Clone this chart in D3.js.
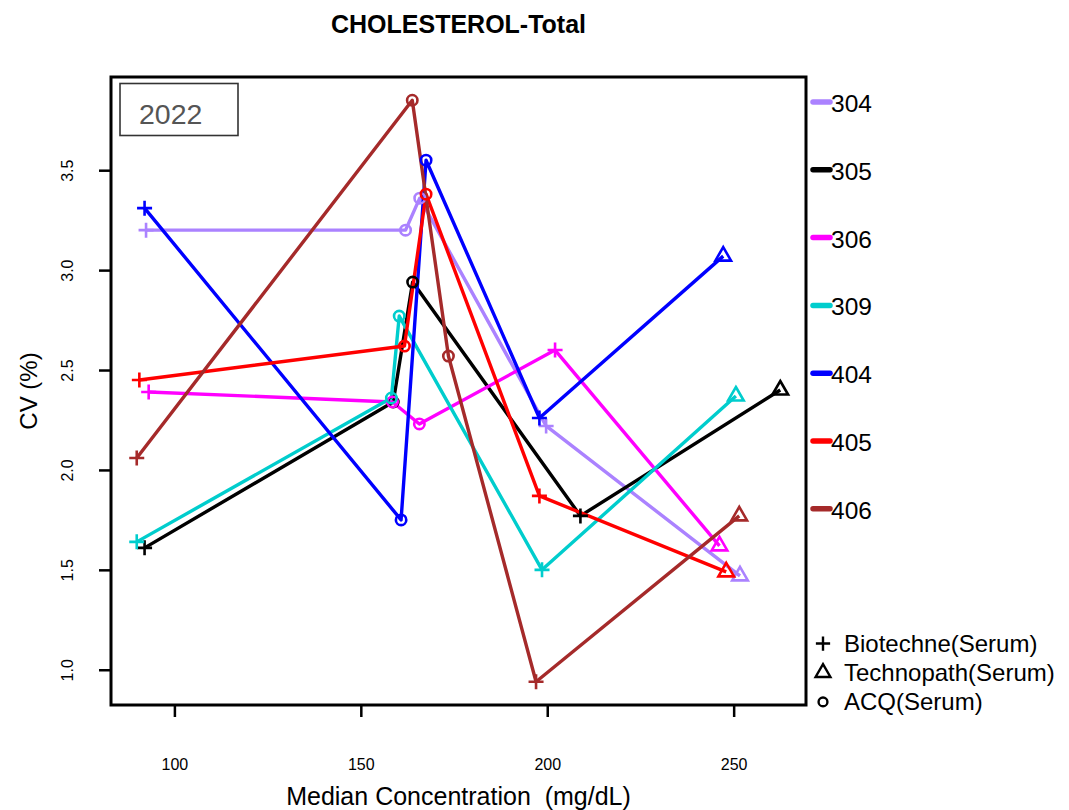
<!DOCTYPE html>
<html>
<head>
<meta charset="utf-8">
<script src="https://cdn.jsdelivr.net/npm/d3@7"></script>
<style>
  html, body { margin: 0; padding: 0; background: #fff; }
  svg { display: block; font-family: "Liberation Sans", Arial, Helvetica, sans-serif; }
</style>
</head>
<body>
<div id="chart"></div>
<script>
// Laboratory groups and their colours
const groups = ["304", "305", "306", "309", "404", "405", "406"];
const groupColors = ["#AB82FF", "#000000", "#FF00FF", "#00CDCD", "#0000FF", "#FF0000", "#A52A2A"];

// Control materials and their plotting symbols
const materials = ["Biotechne(Serum)", "Technopath(Serum)", "ACQ(Serum)"];
const materialSymbols = ["plus", "triangle", "circle"];

// Material of each point along a group's line (same order for every group)
const pointMaterial = ["Biotechne(Serum)", "ACQ(Serum)", "ACQ(Serum)", "Biotechne(Serum)", "Technopath(Serum)"];

// Median concentration (mg/dL) and CV (%) per group
const median304 = [92.4, 162.0, 165.8, 199.7, 251.7];
const cv304     = [3.20, 3.20, 3.36, 2.22, 1.47];
const median305 = [92.0, 158.7, 163.9, 208.9, 262.5];
const cv305     = [1.61, 2.34, 2.94, 1.77, 2.40];
const median306 = [93.1, 158.5, 165.7, 202.1, 246.2];
const cv306     = [2.39, 2.34, 2.23, 2.60, 1.62];
const median309 = [89.9, 158.2, 160.3, 198.6, 250.6];
const cv309     = [1.64, 2.36, 2.77, 1.50, 2.37];
const median404 = [92.0, 160.8, 167.5, 197.9, 247.2];
const cv404     = [3.31, 1.75, 3.55, 2.26, 3.07];
const median405 = [90.6, 161.7, 167.5, 197.9, 248.0];
const cv405     = [2.45, 2.62, 3.38, 1.87, 1.49];
const median406 = [89.9, 163.8, 173.5, 197.0, 251.5];
const cv406     = [2.06, 3.85, 2.57, 0.94, 1.77];

// Axis ticks
const xTicks = [100, 150, 200, 250];
const yTicks = [1.0, 1.5, 2.0, 2.5, 3.0, 3.5];

const chartTitle = "CHOLESTEROL-Total";
const yearLabel = "2022";
const xTitle = "Median Concentration  (mg/dL)";
const yTitle = "CV (%)";

const medians = [median304, median305, median306, median309, median404, median405, median406];
const cvs = [cv304, cv305, cv306, cv309, cv404, cv405, cv406];

const series = groups.map((g, i) => ({
  group: g,
  color: groupColors[i],
  points: medians[i].map((m, j) => ({ x: m, y: cvs[i][j], material: pointMaterial[j] }))
}));

const W = 1069, H = 810;
const plot = { left: 111, right: 806, top: 77, bottom: 705 };

// R-style 4% padding around the data range
function padded(values) {
  const [lo, hi] = d3.extent(values);
  const pad = (hi - lo) * 0.04;
  return [lo - pad, hi + pad];
}
const allX = medians.flat();
const allY = cvs.flat();

const x = d3.scaleLinear().domain(padded(allX)).range([plot.left, plot.right]);
const y = d3.scaleLinear().domain(padded(allY)).range([plot.bottom, plot.top]);

const svg = d3.select("#chart").append("svg").attr("width", W).attr("height", H);

// Symbol drawing
const symbolFor = Object.fromEntries(materials.map((m, i) => [m, materialSymbols[i]]));
function drawSymbol(sel, kind, cx, cy, color, scale = 1, sw = 2.6) {
  if (kind === "plus") {
    const a = 7.5 * scale;
    sel.append("path")
      .attr("d", `M${cx - a},${cy}H${cx + a}M${cx},${cy - a}V${cy + a}`)
      .attr("stroke", color).attr("stroke-width", sw).attr("fill", "none");
  } else if (kind === "triangle") {
    const r = 5.8 * scale;
    const top = r * 1.5551, half = r * 1.3468, base = r * 0.7776;
    sel.append("path")
      .attr("d", `M${cx},${cy - top}L${cx + half},${cy + base}L${cx - half},${cy + base}Z`)
      .attr("stroke", color).attr("stroke-width", sw).attr("fill", "none");
  } else {
    sel.append("circle")
      .attr("cx", cx).attr("cy", cy).attr("r", 5.2 * scale)
      .attr("stroke", color).attr("stroke-width", sw).attr("fill", "none");
  }
}

// Axes
const xAxis = svg.append("g").attr("transform", `translate(0,${plot.bottom})`)
  .call(d3.axisBottom(x).tickValues(xTicks).tickSize(12).tickFormat(d3.format("d")));
xAxis.select(".domain").remove();
xAxis.selectAll(".tick line").attr("stroke", "#000").attr("stroke-width", 2.5);
xAxis.selectAll(".tick text")
  .style("font-size", "16px").style("font-family", "Liberation Sans, Arial, sans-serif")
  .attr("fill", "#000").attr("dy", null).attr("y", 65);

const yAxis = svg.append("g").attr("transform", `translate(${plot.left},0)`)
  .call(d3.axisLeft(y).tickValues(yTicks).tickSize(12).tickFormat(d3.format(".1f")));
yAxis.select(".domain").remove();
yAxis.selectAll(".tick line").attr("stroke", "#000").attr("stroke-width", 2.5);
yAxis.selectAll(".tick text")
  .style("font-size", "16px").style("font-family", "Liberation Sans, Arial, sans-serif")
  .attr("fill", "#000")
  .attr("x", null).attr("dy", null)
  .attr("text-anchor", "middle")
  .attr("transform", "translate(-38,0) rotate(-90)");

// Plot frame
svg.append("rect")
  .attr("x", plot.left).attr("y", plot.top)
  .attr("width", plot.right - plot.left).attr("height", plot.bottom - plot.top)
  .attr("fill", "none").attr("stroke", "#000").attr("stroke-width", 3);

// Lines and markers
const line = d3.line().x(d => x(d.x)).y(d => y(d.y));
const gSeries = svg.append("g");
series.forEach(s => {
  gSeries.append("path").datum(s.points)
    .attr("d", line).attr("fill", "none")
    .attr("stroke", s.color).attr("stroke-width", 3.4).attr("stroke-linejoin", "round");
});
series.forEach(s => {
  const g = gSeries.append("g");
  s.points.forEach(p => drawSymbol(g, symbolFor[p.material], x(p.x), y(p.y), s.color));
});

// Year box
svg.append("rect").attr("x", 120).attr("y", 83.5).attr("width", 118).attr("height", 52)
  .attr("fill", "#fff").attr("stroke", "#333").attr("stroke-width", 1.6);
svg.append("text").attr("x", 139).attr("y", 123.5).attr("font-size", 28.5).attr("fill", "#555")
  .text(yearLabel);

// Title and axis titles
svg.append("text").attr("x", (plot.left + plot.right) / 2).attr("y", 33)
  .attr("text-anchor", "middle").attr("font-size", 25).attr("font-weight", "bold").text(chartTitle);
svg.append("text").attr("x", (plot.left + plot.right) / 2).attr("y", 805)
  .attr("text-anchor", "middle").attr("font-size", 25)
  .style("white-space", "pre").attr("xml:space", "preserve").text(xTitle);
svg.append("text").attr("transform", `translate(37,${(plot.top + plot.bottom) / 2}) rotate(-90)`)
  .attr("text-anchor", "middle").attr("font-size", 24).text(yTitle);

// Group legend
const legG = svg.append("g");
groups.forEach((g, i) => {
  const ly = 102 + i * 67.8;
  legG.append("line").attr("x1", 813).attr("x2", 830).attr("y1", ly).attr("y2", ly)
    .attr("stroke", groupColors[i]).attr("stroke-width", 5.5).attr("stroke-linecap", "round");
  legG.append("text").attr("x", 831).attr("y", ly + 10).attr("font-size", 24.5).text(g);
});

// Material legend
materials.forEach((m, i) => {
  const by = 652 + i * 29.2;
  drawSymbol(legG, materialSymbols[i], 823, by - 8.5, "#000", i === 2 ? 0.85 : 0.95, 2.4);
  legG.append("text").attr("x", 844).attr("y", by).attr("font-size", 24).text(m);
});
</script>
</body>
</html>
